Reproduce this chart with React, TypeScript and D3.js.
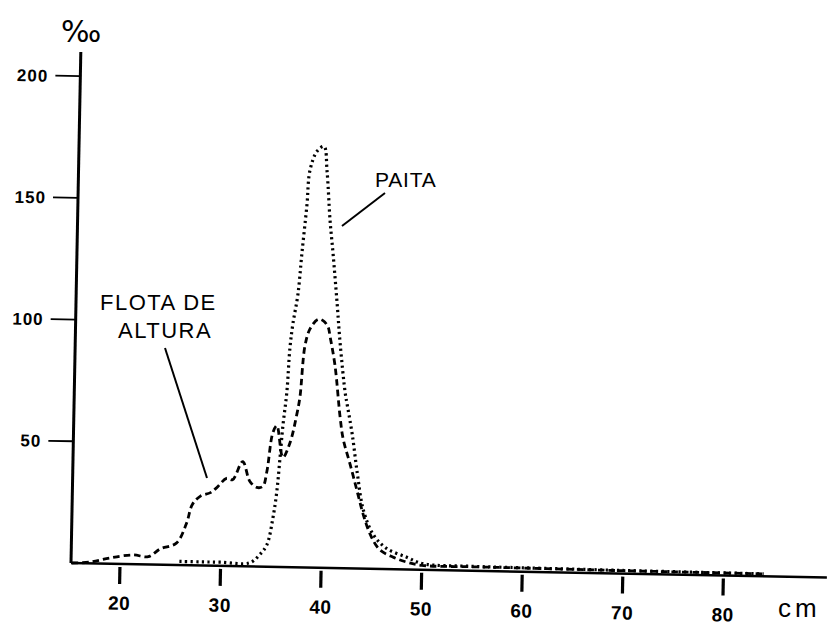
import React from "react";
import * as d3 from "d3";

// Length (cm) / frequency (‰) for the two fleets
const flotaCm = [15.2, 17, 19, 21.3, 22.8, 23.97, 25.56, 26.52, 27.08, 27.87, 28.86, 29.45, 30.43, 31.03, 32.0, 32.74, 33.45, 34.05, 34.42, 34.94, 35.33, 35.99, 36.66, 37.3, 37.57, 37.97, 38.44, 39.22, 39.72, 40.23, 40.45, 41.0, 41.6, 41.95, 42.7, 43.45, 44.1, 44.83, 45.76, 47.1, 48.5, 50, 55, 60, 70, 84];
const flotaVal = [0, 0.5, 2.4, 3.8, 3.2, 6.5, 9, 17, 25, 28.5, 30, 32, 36, 35.5, 43, 35, 32.5, 33, 39, 55, 58, 45, 51, 63, 70, 91, 98, 102, 101.5, 99, 95, 83, 62, 53, 42.5, 31.5, 22, 14, 8, 5, 3, 1.8, 1.6, 1.5, 1.2, 1];

const paitaCm = [25.9, 28, 30, 32.9, 33.88, 34.56, 35.11, 35.45, 35.69, 35.93, 36.26, 36.48, 36.73, 37.17, 37.49, 37.9, 38.13, 38.8, 39.49, 39.83, 40.23, 40.59, 41.09, 41.47, 42.06, 42.29, 42.84, 43.42, 44.09, 45.13, 46.46, 48.5, 50.1, 55, 60, 70, 84];
const paitaVal = [1.5, 1.5, 1.5, 1.5, 5, 9, 20, 31, 44, 58, 72, 90, 100, 112, 129, 149, 163, 171, 173, 163, 142.5, 129, 108.5, 92, 72, 67, 55, 39, 24, 14, 8.5, 5, 2.5, 1.8, 1.6, 1.3, 1];

const xTicks = [20, 30, 40, 50, 60, 70, 80];
const yTicks = [50, 100, 150, 200];

const yAxisLabel = "‰";
const xAxisLabel = "cm";
const paitaLabel = "PAITA";
const flotaLabel = ["FLOTA DE", "ALTURA"];

export default function App() {
  const ox = 71;
  const oy = 563;
  const x = d3.scaleLinear().domain([20, 80]).range([120, 723.5]);
  const y = d3.scaleLinear().domain([0, 200]).range([oy, 76]);

  const line = d3
    .line<[number, number]>()
    .x((d) => x(d[0]))
    .y((d) => y(d[1]))
    .curve(d3.curveCatmullRom.alpha(0.5));

  const flota: [number, number][] = flotaCm.map((c, i) => [c, flotaVal[i]]);
  const paita: [number, number][] = paitaCm.map((c, i) => [c, paitaVal[i]]);

  const tickFont = "'Liberation Sans', Arial, sans-serif";

  return (
    <svg
      width={832}
      height={626}
      style={{ position: "absolute", left: 0, top: 0, background: "#fff" }}
    >
      <rect width={832} height={626} fill="#fff" />
      <g transform={`rotate(1.1, ${ox}, ${oy})`}>
        {/* Y axis */}
        <line x1={ox} y1={oy} x2={ox} y2={52} stroke="#000" strokeWidth={3} />
        {yTicks.map((t) => (
          <g key={t}>
            <line x1={ox - 25} x2={ox} y1={y(t)} y2={y(t)} stroke="#000" strokeWidth={1.8} />
            <text
              x={ox - 32}
              y={y(t)}
              dy="0.36em"
              textAnchor="end"
              fontFamily={tickFont}
              fontWeight="bold"
              fontSize={17}
              letterSpacing={1}
            >
              {t}
            </text>
          </g>
        ))}
        {/* X axis */}
        <line x1={ox} y1={oy} x2={827} y2={oy} stroke="#000" strokeWidth={2.5} />
        {xTicks.map((t) => (
          <g key={t}>
            <line x1={x(t)} x2={x(t)} y1={oy + 3} y2={oy + 20} stroke="#000" strokeWidth={3.2} />
            <text
              x={x(t)}
              y={oy + 39}
              dy="0.36em"
              textAnchor="middle"
              fontFamily={tickFont}
              fontWeight="bold"
              fontSize={19}
              letterSpacing={0.5}
            >
              {t}
            </text>
          </g>
        ))}
        {/* Series */}
        <path
          d={line(paita) || ""}
          fill="none"
          stroke="#000"
          strokeWidth={3.2}
          strokeDasharray="2.2 3.4"
        />
        <path
          d={line(flota) || ""}
          fill="none"
          stroke="#000"
          strokeWidth={2.8}
          strokeDasharray="6.5 4"
        />
      </g>

      {/* Axis titles */}
      <text x={61} y={42} fontFamily="'DejaVu Sans', sans-serif" fontSize={30}>
        {yAxisLabel}
      </text>
      <text
        x={778}
        y={617}
        fontFamily="'Liberation Sans', Arial, sans-serif"
        fontSize={26}
        letterSpacing={4}
      >
        {xAxisLabel}
      </text>

      {/* Annotations */}
      <text
        x={375}
        y={187}
        fontFamily="'Liberation Sans', Arial, sans-serif"
        fontSize={21}
        letterSpacing={0.8}
      >
        {paitaLabel}
      </text>
      <line x1={385} y1={193} x2={342} y2={226} stroke="#000" strokeWidth={2} />

      <text
        x={100}
        y={310}
        fontFamily="'Liberation Sans', Arial, sans-serif"
        fontSize={22}
        letterSpacing={1.5}
      >
        {flotaLabel[0]}
      </text>
      <text
        x={118}
        y={338}
        fontFamily="'Liberation Sans', Arial, sans-serif"
        fontSize={22}
        letterSpacing={1.5}
      >
        {flotaLabel[1]}
      </text>
      <line x1={165} y1={348} x2={207} y2={478} stroke="#000" strokeWidth={2} />
    </svg>
  );
}
